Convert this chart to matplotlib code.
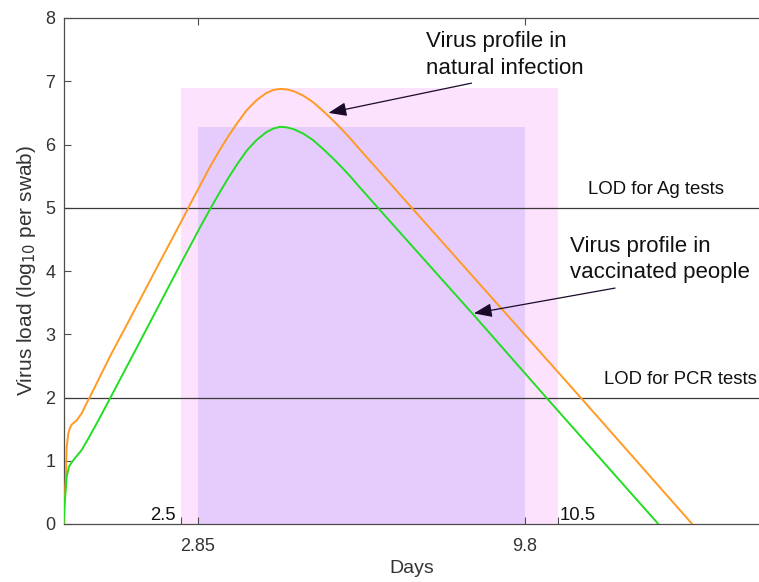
import matplotlib
matplotlib.use("Agg")
import matplotlib.pyplot as plt
from matplotlib.patches import Rectangle

plt.rcParams['font.family'] = ['Liberation Sans', 'DejaVu Sans']

# ---- data ----
natural_days = [0, 0.015, 0.045, 0.066, 0.10, 0.13, 0.17, 0.28, 0.385, 0.49, 0.60, 0.74,
                1.0, 1.5, 2.0, 2.5, 2.7, 2.9, 3.1, 3.3, 3.5, 3.7, 3.9, 4.1, 4.3, 4.45,
                4.6, 4.75, 4.9, 5.1, 5.3, 5.5, 5.7, 5.9, 6.1, 6.25, 7.4, 11.0, 13.36]
natural_load = [0, 0.30, 0.70, 1.22, 1.43, 1.51, 1.57, 1.64, 1.75, 1.91, 2.07, 2.28,
                2.67, 3.37, 4.08, 4.78, 5.07, 5.35, 5.63, 5.89, 6.13, 6.35, 6.55, 6.70, 6.81, 6.86,
                6.88, 6.87, 6.84, 6.77, 6.67, 6.54, 6.40, 6.25, 6.09, 5.96, 5.00, 1.99, 0.0]

vacc_days = [0, 0.02, 0.045, 0.066, 0.115, 0.17, 0.24, 0.385, 0.525, 0.74, 0.99,
             1.5, 2.0, 2.5, 2.7, 2.9, 3.1, 3.3, 3.5, 3.7, 3.9, 4.1, 4.3, 4.45,
             4.6, 4.75, 4.9, 5.1, 5.3, 5.5, 5.7, 5.9, 6.1, 6.25, 6.68, 8.71, 10.27, 12.64]
vacc_load = [0, 0.30, 0.54, 0.75, 0.91, 0.97, 1.04, 1.17, 1.35, 1.64, 1.99,
             2.71, 3.42, 4.13, 4.41, 4.69, 4.96, 5.22, 5.47, 5.70, 5.91, 6.07, 6.19, 6.25,
             6.28, 6.27, 6.24, 6.17, 6.07, 5.94, 5.80, 5.65, 5.49, 5.36, 5.00, 3.31, 1.99, 0.0]

# windows (days, load top)
natural_window = (2.5, 10.5, 6.9)
vacc_window = (2.85, 9.8, 6.28)

lod_levels = [5, 2]
lod_labels = ["LOD for Ag tests", "LOD for PCR tests"]

xtick_vals = [2.85, 9.8]
xtick_labels = ["2.85", "9.8"]
minor_tick_vals = [2.5, 10.5]

# ---- figure ----
fig = plt.figure(figsize=(7.59, 5.82), dpi=100)
ax = fig.add_axes([63.6 / 759, 58 / 582, 1 - 63.6 / 759, 506 / 582])

x0, x1, top = natural_window
ax.add_patch(Rectangle((x0, 0), x1 - x0, top, facecolor='#fde2fe',
                       edgecolor='none', zorder=1))
x0, x1, top = vacc_window
ax.add_patch(Rectangle((x0, 0), x1 - x0, top, facecolor='#e6ccfc',
                       edgecolor='none', zorder=1.1))

for lvl in lod_levels:
    ax.axhline(lvl, color='#3a3a3a', lw=0.9, zorder=2)

ax.plot(natural_days, natural_load, color='#ff9a22', lw=1.4, zorder=3,
        solid_joinstyle='round')
ax.plot(vacc_days, vacc_load, color='#22dd22', lw=1.4, zorder=3,
        solid_joinstyle='round')

ax.set_xlim(0, 14.78)
ax.set_ylim(0, 8)

ax.set_xticks(xtick_vals)
ax.set_xticklabels(xtick_labels)
ax.set_xticks(minor_tick_vals, minor=True)
ax.set_yticks(range(0, 9))
ax.tick_params(axis='both', which='major', direction='in', length=5,
               width=0.8, color='#4d4d4d', labelcolor='#333333', labelsize=13)
ax.tick_params(axis='x', which='major', top=True, pad=10)
ax.tick_params(axis='x', which='minor', direction='in', length=5, width=0.8,
               color='#4d4d4d', top=False, bottom=True)
ax.tick_params(axis='y', pad=6)

for side in ['left', 'bottom', 'top']:
    ax.spines[side].set_color('#4d4d4d')
    ax.spines[side].set_linewidth(0.9)
ax.spines['right'].set_visible(False)

ax.set_xlabel('Days', fontsize=14, color='#333333', labelpad=4)
ax.set_ylabel('Virus load (log$_{10}$ per swab)', fontsize=15,
              color='#333333', labelpad=5)

# window end labels
ax.text(2.39, 0.07, '2.5', ha='right', va='baseline', fontsize=13.3, color='#111111')
ax.text(10.54, 0.07, '10.5', ha='left', va='baseline', fontsize=13.3, color='#111111')

# LOD labels
ax.text(11.15, 5.21, lod_labels[0], ha='left', va='baseline', fontsize=13.4,
        color='#111111')
ax.text(11.49, 2.22, lod_labels[1], ha='left', va='baseline', fontsize=13.3,
        color='#111111')

arrow = dict(arrowstyle='-|>,head_length=1.1,head_width=0.42', color='#1a0a2a',
             lw=0.9, shrinkA=0, shrinkB=0)
ax.annotate('', xy=(5.63, 6.5), xytext=(8.67, 6.97), arrowprops=arrow, zorder=4)
ax.annotate('', xy=(8.72, 3.33), xytext=(11.72, 3.73), arrowprops=arrow, zorder=4)

ax.text(7.70, 7.547, 'Virus profile in', ha='left', va='baseline',
        fontsize=16, color='#111111')
ax.text(7.70, 7.115, 'natural infection', ha='left', va='baseline',
        fontsize=16, color='#111111')
ax.text(10.76, 4.305, 'Virus profile in', ha='left', va='baseline',
        fontsize=16, color='#111111')
ax.text(10.76, 3.885, 'vaccinated people', ha='left', va='baseline',
        fontsize=16, color='#111111')

fig.savefig('out.png', dpi=100)
